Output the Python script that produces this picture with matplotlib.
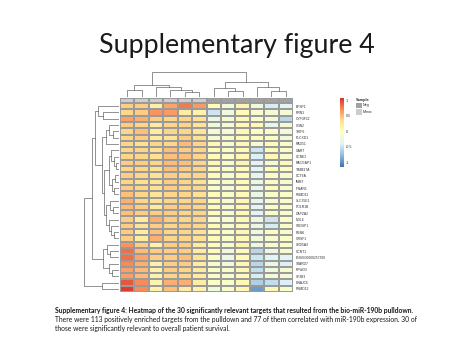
import numpy as np
import matplotlib
matplotlib.use("Agg")
import matplotlib.pyplot as plt
from matplotlib.colors import LinearSegmentedColormap, ListedColormap, Normalize

# genes (rows, in displayed order) and samples (columns)
genes = ["BFSP1", "RRN3", "CYP4F22", "CNN2", "TRIP6", "PLCXD1", "RAD51", "GART",
         "CCNE2", "RACGAP1", "TIMM17A", "CCT6A", "IMMT", "IFNAR1", "PSMD11",
         "SLC35E1", "POLR1B", "CAPZA2", "NOL6", "SBDSP1", "RBM6", "GRSF1",
         "SRD5A3", "CCNT1", "ENSG00000257390", "STARD7", "RFWD3", "SF3B3",
         "DNAJC6", "PSMD12"]
sample_group = ["Mimic"] * 6 + ["Neg"] * 6

values = [
    [0.42, 0.42, 0.15, 0.60, 0.78, 0.65, 0.00, -0.22, 0.08, -0.22, -0.45, -0.38],
    [0.38, 0.42, 0.68, 0.65, 0.20, 0.12, -0.50, -0.22, 0.02, -0.12, -0.17, -0.17],
    [0.62, 0.55, 0.42, 0.38, 0.38, 0.33, -0.28, -0.17, 0.05, -0.08, -0.22, -0.60],
    [0.42, 0.38, 0.20, 0.38, 0.38, 0.28, -0.22, -0.17, 0.02, 0.05, -0.33, -0.17],
    [0.38, 0.48, 0.20, 0.38, 0.38, 0.28, -0.17, -0.17, 0.05, -0.08, -0.08, -0.17],
    [0.38, 0.42, 0.20, 0.28, 0.42, 0.33, -0.17, -0.12, 0.02, 0.00, -0.08, -0.22],
    [0.38, 0.33, 0.38, 0.38, 0.50, 0.38, 0.05, -0.12, 0.05, -0.17, 0.00, -0.08],
    [0.38, 0.38, 0.33, 0.48, 0.42, 0.38, 0.00, -0.08, 0.02, -0.50, 0.00, -0.08],
    [0.38, 0.38, 0.33, 0.48, 0.48, 0.38, 0.00, -0.08, 0.05, -0.42, 0.05, -0.12],
    [0.42, 0.42, 0.38, 0.50, 0.48, 0.38, 0.05, -0.12, 0.10, -0.38, -0.17, 0.05],
    [0.38, 0.38, 0.33, 0.48, 0.42, 0.38, 0.00, -0.08, 0.02, -0.38, 0.00, -0.08],
    [0.42, 0.38, 0.33, 0.42, 0.38, 0.38, 0.00, -0.12, 0.02, -0.33, -0.08, -0.12],
    [0.38, 0.33, 0.28, 0.42, 0.38, 0.33, -0.08, -0.12, 0.02, -0.28, -0.08, -0.12],
    [0.42, 0.38, 0.33, 0.42, 0.38, 0.38, -0.08, -0.17, 0.02, -0.33, 0.00, -0.12],
    [0.48, 0.38, 0.28, 0.38, 0.38, 0.33, 0.00, -0.08, 0.02, -0.28, -0.08, -0.08],
    [0.55, 0.38, 0.33, 0.38, 0.38, 0.38, 0.00, -0.12, 0.05, -0.33, -0.17, -0.08],
    [0.50, 0.42, 0.20, 0.42, 0.42, 0.38, 0.00, -0.12, 0.05, -0.38, -0.08, -0.08],
    [0.48, 0.42, 0.42, 0.42, 0.38, 0.38, 0.00, -0.12, 0.02, -0.38, -0.08, -0.12],
    [0.42, 0.20, 0.55, 0.42, 0.38, 0.38, -0.08, -0.12, 0.05, -0.28, -0.50, -0.08],
    [0.42, 0.28, 0.42, 0.38, 0.42, 0.38, 0.00, -0.12, 0.02, -0.28, -0.45, -0.08],
    [0.42, 0.20, 0.48, 0.38, 0.38, 0.33, 0.00, -0.08, 0.05, -0.22, -0.08, -0.12],
    [0.42, 0.20, 0.55, 0.38, 0.38, 0.33, 0.00, -0.08, 0.05, -0.22, -0.12, -0.08],
    [0.68, 0.42, 0.12, 0.42, 0.42, 0.20, 0.00, -0.12, 0.10, -0.28, -0.12, -0.08],
    [0.82, 0.50, 0.42, 0.42, 0.42, 0.20, 0.00, -0.22, 0.02, -0.60, -0.28, -0.12],
    [0.82, 0.60, 0.42, 0.42, 0.48, 0.28, -0.08, -0.28, 0.02, -0.50, -0.38, -0.38],
    [0.72, 0.55, 0.12, 0.42, 0.42, 0.20, -0.12, -0.22, 0.05, -0.60, -0.28, -0.42],
    [0.62, 0.50, 0.12, 0.42, 0.38, 0.20, -0.08, -0.12, 0.05, -0.55, -0.22, -0.17],
    [0.62, 0.50, 0.12, 0.38, 0.38, 0.20, -0.08, -0.12, 0.02, -0.45, -0.17, -0.17],
    [0.92, 0.72, 0.12, 0.55, 0.55, 0.20, -0.08, -0.08, 0.05, -0.65, -0.55, -0.42],
    [1.02, 0.72, 0.12, 0.48, 0.20, 0.12, -0.22, -0.12, 0.05, -0.95, 0.05, -0.08],
]

# dendrograms: [left, right, height], leaves are indices
col_tree = [[[0, 1, 0.28], [2, [3, [4, 5, 0.2], 0.3], 0.4], 0.48],
            [[6, [7, 8, 0.24], 0.36], [9, [10, 11, 0.24], 0.4], 0.6], 1.0]
top3 = [0, [1, 2, 0.45], 0.6]
g1 = [[3, [4, 5, 0.18], 0.28], 6, 0.38]
g2 = [[7, [8, [9, 10, 0.1], 0.15], 0.22], [[11, 12, 0.12], [13, 14, 0.13], 0.2], 0.3]
g3 = [[15, [16, 17, 0.18], 0.26], [18, [19, [20, 21, 0.15], 0.22], 0.3], 0.36]
g4 = [[22, [23, 24, 0.25], 0.35], [25, [26, 27, 0.2], 0.3], 0.45]
row_tree = [[[top3, [g1, [g2, g3, 0.42], 0.5], 0.68], g4, 0.78], [28, 29, 0.5], 1.0]

legend_ticks = [-1, -0.5, 0, 0.5, 1]
vmin, vmax = -1.15, 1.08

title = "Supplementary figure 4"
caption_bold = ("Supplementary figure 4: Heatmap of the 30 significantly relevant targets "
                "that resulted from the bio-miR-190b pulldown.")
caption_lines = ["There were 113 positively enriched targets from the pulldown and 77 of them "
                 "correlated with miR-190b expression. 30 of",
                 "those were significantly relevant to overall patient survival."]

W, H = 474, 355
def fx(x):
    return x / W
def fy(y):
    return 1 - y / H

cmap = LinearSegmentedColormap.from_list(
    "rdylbu", ["#4575B4", "#91BFDB", "#E0F3F8", "#FFFFBF", "#FEE090", "#FC8D59", "#D73027"])
norm = Normalize(vmin, vmax)
group_names = ["Mimic", "Neg"]
group_colors = ["#CDCDCD", "#A2A2A2"]

fig = plt.figure(figsize=(W / 100, H / 100), dpi=100)
fig.patch.set_facecolor("white")

data = np.array(values)
nrow, ncol = data.shape

# heatmap
hm_l, hm_r, hm_t, hm_b = 120, 293, 103, 292
ax = fig.add_axes([fx(hm_l), fy(hm_b), fx(hm_r - hm_l), (hm_b - hm_t) / H])
ax.pcolormesh(data, cmap=cmap, norm=norm, edgecolors="#9A9A9A", linewidth=0.3)
ax.set_xlim(0, ncol)
ax.set_ylim(nrow, 0)
ax.set_xticks([])
ax.set_yticks(np.arange(nrow) + 0.5)
ax.set_yticklabels(genes, fontsize=2.4, family="Liberation Sans", color="#333333")
ax.yaxis.tick_right()
ax.tick_params(axis="y", length=0, pad=2.2)
for s in ax.spines.values():
    s.set_visible(False)

# sample annotation bar
ax_ann = fig.add_axes([fx(hm_l), fy(102.5), fx(hm_r - hm_l), 5 / H])
codes = np.array([[group_names.index(g) for g in sample_group]])
ax_ann.pcolormesh(codes, cmap=ListedColormap(group_colors), vmin=-0.5, vmax=1.5,
                  edgecolors="#9A9A9A", linewidth=0.3)
ax_ann.set_xlim(0, ncol)
ax_ann.axis("off")


def draw_tree(a, node, orient):
    if isinstance(node, int):
        return node + 0.5, 0.0
    left, right, h = node
    pl, hl = draw_tree(a, left, orient)
    pr, hr = draw_tree(a, right, orient)
    if orient == "top":
        a.plot([pl, pl, pr, pr], [hl, h, h, hr], color="#555555", lw=0.45)
    else:
        a.plot([hl, h, h, hr], [pl, pl, pr, pr], color="#555555", lw=0.45)
    return (pl + pr) / 2, h


# column dendrogram
ax_ct = fig.add_axes([fx(hm_l), fy(97), fx(hm_r - hm_l), 25 / H])
draw_tree(ax_ct, col_tree, "top")
ax_ct.set_xlim(0, ncol)
ax_ct.set_ylim(0, 1.0)
ax_ct.axis("off")

# row dendrogram
ax_rt = fig.add_axes([fx(84), fy(hm_b), fx(119 - 84), (hm_b - hm_t) / H])
draw_tree(ax_rt, row_tree, "left")
ax_rt.set_xlim(1.0, 0)
ax_rt.set_ylim(nrow, 0)
ax_rt.axis("off")

# colour legend
ax_cb = fig.add_axes([fx(339.5), fy(166.7), fx(4.5), (166.7 - 97.7) / H])
grad = np.linspace(vmin, vmax, 200).reshape(-1, 1)
ax_cb.pcolormesh([0, 1], np.linspace(vmin, vmax, 201), grad, cmap=cmap, norm=norm)
ax_cb.set_ylim(vmin, vmax)
ax_cb.set_xticks([])
ax_cb.set_yticks(legend_ticks)
ax_cb.set_yticklabels([f"{t:g}" for t in legend_ticks], fontsize=2.7,
                      family="Liberation Sans", color="#333333")
ax_cb.yaxis.tick_right()
ax_cb.tick_params(axis="y", length=0, pad=1.5)
for s in ax_cb.spines.values():
    s.set_visible(False)

# sample legend
fig.text(fx(356), fy(100), "Sample", fontsize=2.8, fontweight="bold",
         family="Liberation Sans", color="#333333", va="center")
for i, g in enumerate(["Neg", "Mimic"]):
    y0 = 102.5 + i * 6.5
    fig.patches.append(plt.Rectangle((fx(356), fy(y0 + 5.5)), fx(5.5), 5.5 / H,
                                     transform=fig.transFigure,
                                     facecolor=group_colors[group_names.index(g)],
                                     edgecolor="none"))
    fig.text(fx(363), fy(y0 + 2.75), g, fontsize=2.7, family="Liberation Sans",
             color="#333333", va="center")

# slide title and caption
fig.text(0.5, fy(45), title, fontsize=19.3, family="Lato", ha="center", va="center",
         color="#1a1a1a")
fig.text(fx(55), fy(311), caption_bold, fontsize=4.85, family="Lato",
         fontweight="bold", va="center", color="#1a1a1a")
for i, line in enumerate(caption_lines):
    fig.text(fx(55), fy(319.6 + i * 8.5), line, fontsize=4.85, family="Lato",
             va="center", color="#1a1a1a")

fig.savefig("out.png", dpi=100)
